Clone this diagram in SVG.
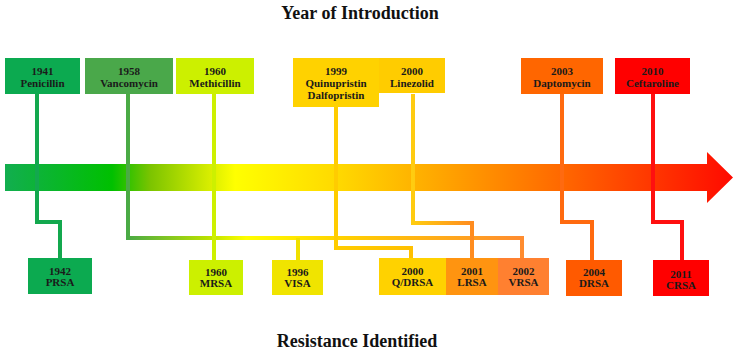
<svg xmlns="http://www.w3.org/2000/svg" width="737" height="353" viewBox="0 0 737 353">
<style>
  .title { font-family: "Liberation Serif", "DejaVu Serif", serif; font-weight: bold; font-size: 18px; fill: #111; text-anchor: middle; }
  .lbl { font-family: "Liberation Serif", "DejaVu Serif", serif; font-weight: bold; font-size: 11px; fill: #1a1a1a; text-anchor: middle; }
  .con { fill: none; stroke-width: 4; stroke-linejoin: miter; stroke-linecap: butt; }
</style>
<defs>
  <linearGradient id="arrowGrad" gradientUnits="userSpaceOnUse" x1="5" y1="0" x2="733" y2="0">
    <stop offset="0" stop-color="#12ae4f"/>
    <stop offset="0.147" stop-color="#00c000"/>
    <stop offset="0.2" stop-color="#7cc400"/>
    <stop offset="0.316" stop-color="#ffff00"/>
    <stop offset="0.46" stop-color="#ffd800"/>
    <stop offset="0.57" stop-color="#ffb000"/>
    <stop offset="0.76" stop-color="#ff6a00"/>
    <stop offset="1" stop-color="#ff0a00"/>
  </linearGradient>
  <linearGradient id="vancoGrad" gradientUnits="userSpaceOnUse" x1="128" y1="0" x2="522" y2="0">
    <stop offset="0" stop-color="#4aaa45"/>
    <stop offset="0.2" stop-color="#b8e000"/>
    <stop offset="0.3" stop-color="#ffff00"/>
    <stop offset="0.55" stop-color="#ffd000"/>
    <stop offset="1" stop-color="#ff8c30"/>
  </linearGradient>
  <linearGradient id="quinGrad" gradientUnits="userSpaceOnUse" x1="336" y1="0" x2="411" y2="0">
    <stop offset="0" stop-color="#ffcc00"/>
    <stop offset="1" stop-color="#ffc000"/>
  </linearGradient>
  <linearGradient id="lineGrad" gradientUnits="userSpaceOnUse" x1="413" y1="0" x2="472" y2="0">
    <stop offset="0" stop-color="#ffcc10"/>
    <stop offset="1" stop-color="#ff8c20"/>
  </linearGradient>
</defs>

<rect width="737" height="353" fill="#ffffff"/>

<text class="title" x="360" y="19">Year of Introduction</text>
<text class="title" x="357" y="347">Resistance Identified</text>

<path id="timeline-arrow" d="M5 164 H707 V152 L733 177.5 L707 203 V191 H5 Z" fill="url(#arrowGrad)"/>

<g id="connectors" class="con">
  <path d="M37 94 V222 H60 V258" stroke="#13a84e"/>
  <path d="M128 94 V238 H522 V258" stroke="url(#vancoGrad)"/>
  <path d="M298 238 V260" stroke="#f0e000"/>
  <path d="M214 94 V260" stroke="#cdf000"/>
  <path d="M336 107 V248 H411 V258" stroke="url(#quinGrad)"/>
  <path d="M413 94 V223 H472 V258" stroke="url(#lineGrad)"/>
  <path d="M562 94 V222 H592 V260" stroke="#ff6a10"/>
  <path d="M653 94 V222 H682 V260" stroke="#ff1010"/>
</g>

<g id="penicillin">
  <rect x="5" y="58" width="75" height="36" fill="#0caa50"/>
  <text class="lbl" x="42.5" y="75">1941</text>
  <text class="lbl" x="42.5" y="87">Penicillin</text>
</g>
<g id="vancomycin">
  <rect x="85" y="58" width="88" height="36" fill="#4aa84a"/>
  <text class="lbl" x="129" y="75">1958</text>
  <text class="lbl" x="129" y="87">Vancomycin</text>
</g>
<g id="methicillin">
  <rect x="176" y="58" width="78" height="36" fill="#ccf000"/>
  <text class="lbl" x="215" y="75">1960</text>
  <text class="lbl" x="215" y="87">Methicillin</text>
</g>
<g id="quinupristin">
  <rect x="293" y="58" width="86" height="49" fill="#ffd200"/>
  <text class="lbl" x="336" y="75">1999</text>
  <text class="lbl" x="336" y="87">Quinupristin</text>
  <text class="lbl" x="336" y="99">Dalfopristin</text>
</g>
<g id="linezolid">
  <rect x="379" y="58" width="66" height="35" fill="#ffcc00"/>
  <text class="lbl" x="412" y="75">2000</text>
  <text class="lbl" x="412" y="87">Linezolid</text>
</g>
<g id="daptomycin">
  <rect x="521" y="58" width="82" height="36" fill="#ff6600"/>
  <text class="lbl" x="562" y="75">2003</text>
  <text class="lbl" x="562" y="87">Daptomycin</text>
</g>
<g id="ceftaroline">
  <rect x="615" y="58" width="75" height="36" fill="#ff0000"/>
  <text class="lbl" x="652.5" y="75">2010</text>
  <text class="lbl" x="652.5" y="87">Ceftaroline</text>
</g>

<g id="prsa">
  <rect x="28" y="258" width="64" height="36" fill="#0caa50"/>
  <text class="lbl" x="60" y="275">1942</text>
  <text class="lbl" x="60" y="286">PRSA</text>
</g>
<g id="mrsa">
  <rect x="189" y="260" width="54" height="35" fill="#ccf000"/>
  <text class="lbl" x="216" y="276">1960</text>
  <text class="lbl" x="216" y="287">MRSA</text>
</g>
<g id="visa">
  <rect x="272" y="260" width="51" height="35" fill="#f0e400"/>
  <text class="lbl" x="297.5" y="276">1996</text>
  <text class="lbl" x="297.5" y="287">VISA</text>
</g>
<g id="qdrsa">
  <rect x="379" y="258" width="67" height="37" fill="#ffd200"/>
  <text class="lbl" x="412.5" y="275">2000</text>
  <text class="lbl" x="412.5" y="286">Q/DRSA</text>
</g>
<g id="lrsa">
  <rect x="446" y="258" width="52" height="37" fill="#ff9410"/>
  <text class="lbl" x="472" y="275">2001</text>
  <text class="lbl" x="472" y="286">LRSA</text>
</g>
<g id="vrsa">
  <rect x="498" y="258" width="51" height="37" fill="#ff8030"/>
  <text class="lbl" x="523.5" y="275">2002</text>
  <text class="lbl" x="523.5" y="286">VRSA</text>
</g>
<g id="drsa">
  <rect x="566" y="260" width="56" height="36" fill="#ff5a00"/>
  <text class="lbl" x="594" y="276">2004</text>
  <text class="lbl" x="594" y="287">DRSA</text>
</g>
<g id="crsa">
  <rect x="653" y="260" width="56" height="36" fill="#ff0000"/>
  <text class="lbl" x="681" y="278">2011</text>
  <text class="lbl" x="681" y="289">CRSA</text>
</g>
</svg>
